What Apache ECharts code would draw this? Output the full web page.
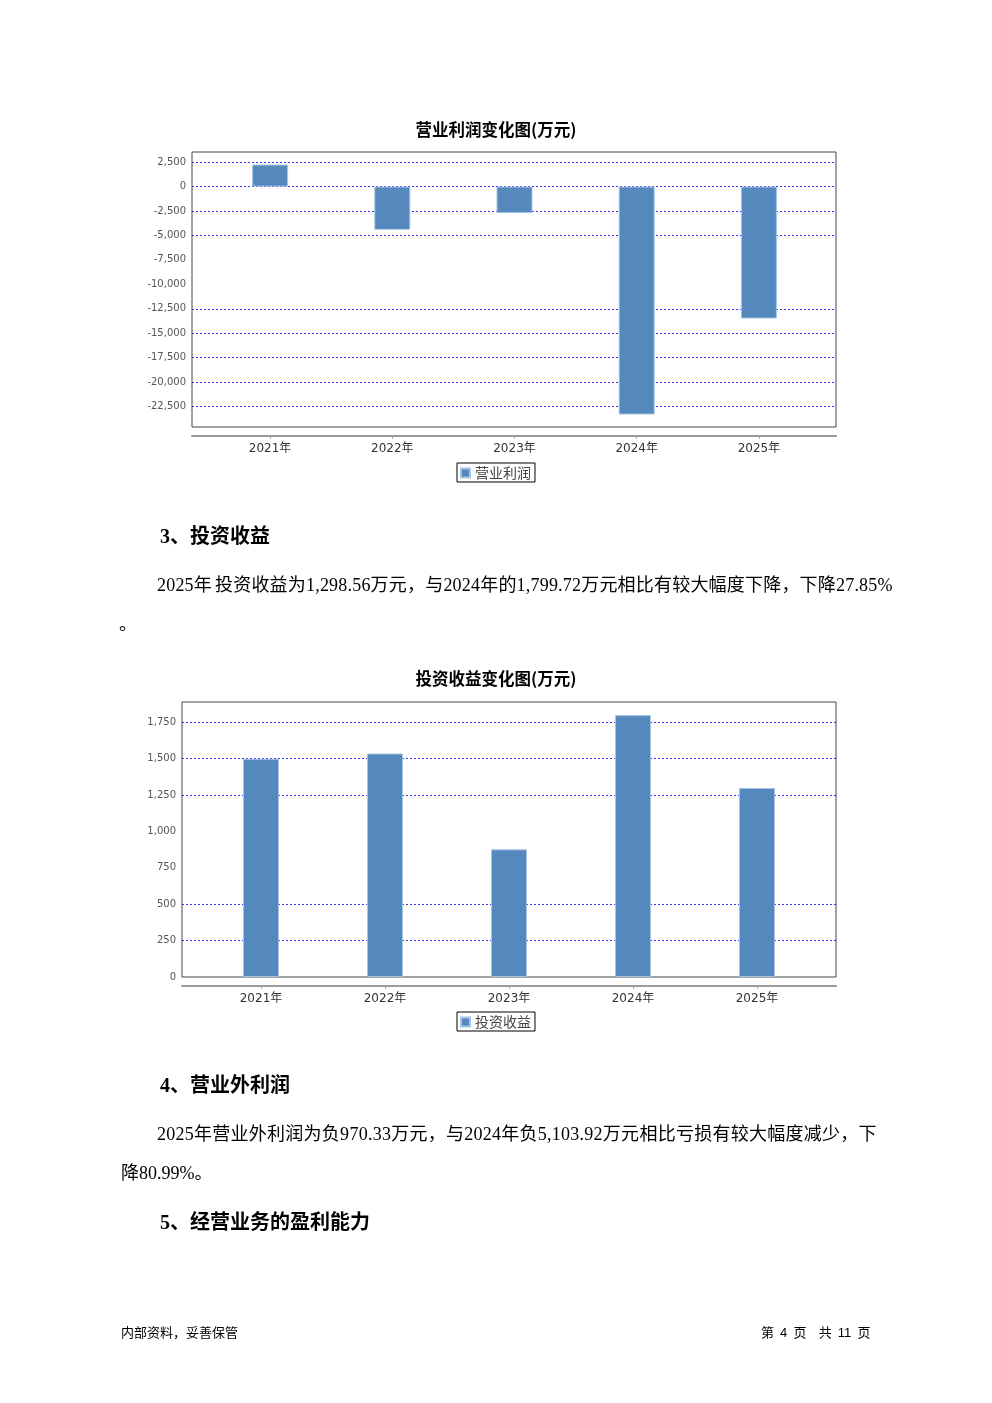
<!DOCTYPE html>
<html>
<head>
<meta charset="utf-8">
<script src="https://cdn.jsdelivr.net/npm/echarts@6/dist/echarts.min.js"></script>
<style>
  html, body { margin: 0; padding: 0; background: #fff; }
  #page { position: relative; width: 992px; height: 1403px; overflow: hidden; background: #fff; }
  #chart { position: absolute; left: 0; top: 0; width: 992px; height: 1403px; }
  .t { position: absolute; white-space: pre; color: #000;
       font-family: "Liberation Serif", "Noto Sans CJK SC", serif; }
  .h { font-size: 20px; font-weight: bold; line-height: 24px; }
  .p { font-size: 18px; line-height: 24px; }
  .f { font-size: 13px; line-height: 16px; font-family: "Liberation Sans", "Noto Sans CJK SC", sans-serif; }
</style>
</head>
<body>
<div id="page">
  <div id="chart"></div>
  <div class="t h" style="left:160px; top:524px;">3、投资收益</div>
  <div class="t p" style="left:157px; top:573px; letter-spacing:0.2px;">2025年<span style="letter-spacing:0">&#8202;&#8202;</span>投资收益为1,298.56万元，与2024年的1,799.72万元相比有较大幅度下降，下降27.85%</div>
  <div class="t p" style="left:119px; top:612px;">。</div>
  <div class="t h" style="left:160px; top:1073px;">4、营业外利润</div>
  <div class="t p" style="left:157px; top:1122px; letter-spacing:0.26px;">2025年营业外利润为负970.33万元，与2024年负5,103.92万元相比亏损有较大幅度减少，下</div>
  <div class="t p" style="left:121px; top:1161px;">降80.99%。</div>
  <div class="t h" style="left:160px; top:1210px;">5、经营业务的盈利能力</div>
  <div class="t f" style="left:121px; top:1325px;">内部资料，妥善保管</div>
  <div class="t f" style="left:761px; top:1325px; word-spacing:2.5px;">第 4 页  共 11 页</div>
</div>
<script>
// ---- data ----
const categories = ['2021年', '2022年', '2023年', '2024年', '2025年'];
const operatingProfit = [2260, -4420, -2710, -23320, -13500];      // 营业利润 (万元)
const investmentIncome = [1500, 1536, 877, 1799.72, 1298.56];     // 投资收益 (万元)
const title1 = '营业利润变化图(万元)';
const title2 = '投资收益变化图(万元)';
const series1Name = '营业利润';
const series2Name = '投资收益';
const tickStep1 = 2500;
const tickStep2 = 250;
const hiddenGrid1 = [-10000, -7500];   // gridlines not drawn in the reference
const hiddenGrid2 = [750, 1000];

// ---- axis ranges (5% margins like the source renderer) ----
function rangeOf(arr) {
  const lo = Math.min(...arr), hi = Math.max(...arr);
  if (lo < 0) {
    const span = hi - lo;
    return [lo - span * 0.05, hi + span * 0.05];
  }
  return [0, hi * 1.05];
}
const [min1, max1] = rangeOf(operatingProfit);
const [min2, max2] = rangeOf(investmentIncome);

function gridColors(min, max, step, hidden) {
  const BLUE = '#3434f4', T = 'rgba(0,0,0,0)';
  const cols = [];
  const first = Math.ceil(min / step) * step;
  if (first > min) cols.push(T);
  for (let v = first; v <= max + 1e-9; v += step) {
    if (v === min) cols.push(T);
    else cols.push(hidden.indexOf(v) >= 0 ? T : BLUE);
  }
  const last = Math.floor(max / step) * step;
  if (last < max) cols.push(T);
  return cols;
}

const fmt = v => Math.round(v).toLocaleString('en-US');
const FONT = 'DejaVu Sans, Noto Sans CJK SC, sans-serif';
const BAR = '#5589bd';

const chart = echarts.init(document.getElementById('chart'), null, { renderer: 'canvas' });

function valueAxis(gridIndex, min, max, step, hidden, visible) {
  return {
    type: 'value', gridIndex, min, max,
    minInterval: step, maxInterval: step, splitNumber: 12,
    show: visible,
    axisLine: { show: false }, axisTick: { show: false },
    axisLabel: {
      show: visible, fontSize: 10, color: '#555', fontFamily: FONT, margin: 6,
      showMinLabel: (min % step === 0), showMaxLabel: false, formatter: fmt
    },
    splitLine: {
      show: visible,
      lineStyle: { color: gridColors(min, max, step, hidden), type: [2, 2], width: 1 }
    }
  };
}

function frameXAxis(gridIndex) {
  return { type: 'category', gridIndex, data: categories, offset: 9,
    axisLine: { show: true, onZero: false, lineStyle: { color: '#999', width: 2 } },
    axisTick: { show: false }, axisLabel: { show: false }, splitLine: { show: false } };
}
function barXAxis(gridIndex) {
  return { type: 'category', gridIndex, data: categories, offset: 9,
    axisLine: { show: false, onZero: false },
    axisTick: { show: true, alignWithLabel: true, length: 3, lineStyle: { color: '#aaa' } },
    axisLabel: { fontSize: 12, color: '#333', fontFamily: FONT, margin: 7 } };
}
function legendAt(name, top) {
  return { data: [name], left: 457, top, orient: 'horizontal',
    borderColor: '#000', borderWidth: 1, padding: [3, 4, 2, 3],
    icon: 'rect', itemWidth: 9, itemHeight: 9,
    textStyle: { fontSize: 14, color: '#444', fontFamily: 'Noto Sans CJK SC' } };
}
const titleStyle = { fontSize: 16.5, fontWeight: 'bold', color: '#000', fontFamily: 'Noto Sans CJK SC' };

chart.setOption({
  animation: false,
  title: [
    { text: title1, left: 'center', top: 116, textStyle: titleStyle },
    { text: title2, left: 'center', top: 665, textStyle: titleStyle }
  ],
  legend: [legendAt(series1Name, 463), legendAt(series2Name, 1012)],
  grid: [
    { left: 192, top: 152, width: 644, height: 275, show: true, borderColor: '#444', borderWidth: 1, backgroundColor: '#fff' },
    { left: 209, top: 152, width: 611, height: 275 },
    { left: 182, top: 702, width: 654, height: 275, show: true, borderColor: '#444', borderWidth: 1, backgroundColor: '#fff' },
    { left: 199, top: 702, width: 620, height: 275 }
  ],
  xAxis: [frameXAxis(0), barXAxis(1), frameXAxis(2), barXAxis(3)],
  yAxis: [
    valueAxis(0, min1, max1, tickStep1, hiddenGrid1, true),
    valueAxis(1, min1, max1, tickStep1, [], false),
    valueAxis(2, min2, max2, tickStep2, hiddenGrid2, true),
    valueAxis(3, min2, max2, tickStep2, [], false)
  ],
  series: [
    { name: series1Name, type: 'bar', xAxisIndex: 1, yAxisIndex: 1, data: operatingProfit,
      barWidth: 36, itemStyle: { color: BAR, borderColor: '#a6c3e2', borderWidth: 1 } },
    { name: series2Name, type: 'bar', xAxisIndex: 3, yAxisIndex: 3, data: investmentIncome,
      barWidth: 36, itemStyle: { color: BAR, borderColor: '#a6c3e2', borderWidth: 1 } }
  ]
});
</script>
</body>
</html>
